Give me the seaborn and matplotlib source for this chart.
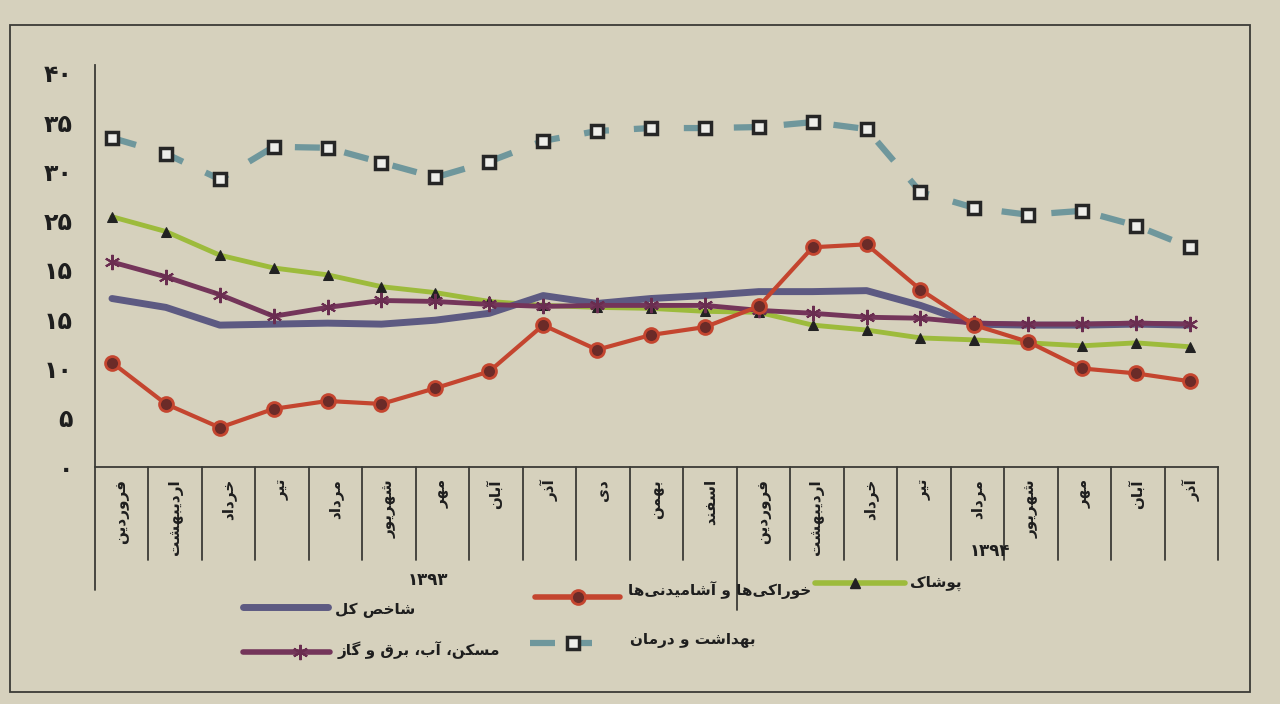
import numpy as np
import pandas as pd
import seaborn as sns
import matplotlib.pyplot as plt
from matplotlib.lines import Line2D
from matplotlib.patches import Rectangle

# ماه‌ها (۱۳۹۳: فروردین تا اسفند، ۱۳۹۴: فروردین تا آذر)
months_1393 = ["فروردین", "اردیبهشت", "خرداد", "تیر", "مرداد", "شهریور",
               "مهر", "آبان", "آذر", "دی", "بهمن", "اسفند"]
months_1394 = ["فروردین", "اردیبهشت", "خرداد", "تیر", "مرداد", "شهریور",
               "مهر", "آبان", "آذر"]
months = months_1393 + months_1394

years = ["۱۳۹۳", "۱۳۹۴"]

y_ticks = [0, 5, 10, 15, 20, 25, 30, 35, 40]
y_tick_labels = ["۰", "۵", "۱۰", "۱۵", "۱۵", "۲۵", "۳۰", "۳۵", "۴۰"]

# series values
health = [33.4, 31.8, 29.2, 32.5, 32.4, 30.9, 29.4, 31.0, 33.1, 34.1, 34.4,
          34.4, 34.5, 35.0, 34.3, 27.9, 26.3, 25.6, 26.0, 24.5, 22.3]
apparel = [25.4, 23.9, 21.5, 20.2, 19.5, 18.3, 17.7, 16.8, 16.4, 16.2, 16.1,
           15.8, 15.7, 14.4, 13.9, 13.1, 12.9, 12.6, 12.3, 12.6, 12.2]
housing = [20.8, 19.3, 17.5, 15.3, 16.2, 16.9, 16.8, 16.5, 16.3, 16.4, 16.4,
           16.4, 15.9, 15.6, 15.2, 15.1, 14.6, 14.5, 14.5, 14.6, 14.5]
overall = [17.1, 16.2, 14.4, 14.5, 14.6, 14.5, 14.9, 15.6, 17.4, 16.6, 17.1,
           17.4, 17.8, 17.8, 17.9, 16.4, 14.5, 14.4, 14.4, 14.5, 14.4]
food = [10.6, 6.4, 4.0, 5.9, 6.7, 6.4, 8.0, 9.7, 14.4, 11.9, 13.4,
        14.2, 16.3, 22.3, 22.6, 18.0, 14.4, 12.7, 10.0, 9.5, 8.7]

names = {
    "overall": "شاخص کل",
    "food": "خوراکی‌ها و آشامیدنی‌ها",
    "apparel": "پوشاک",
    "housing": "مسکن، آب، برق و گاز",
    "health": "بهداشت و درمان",
}

# --- tiny Persian shaper: matplotlib does not join Arabic letters itself ---
# (isolated, final, initial, medial)
FORMS = {
    "ا": ("\uFE8D", "\uFE8E", None, None), "آ": ("\uFE81", "\uFE82", None, None),
    "ب": ("\uFE8F", "\uFE90", "\uFE91", "\uFE92"), "پ": ("\uFB56", "\uFB57", "\uFB58", "\uFB59"),
    "ت": ("\uFE95", "\uFE96", "\uFE97", "\uFE98"), "خ": ("\uFEA5", "\uFEA6", "\uFEA7", "\uFEA8"),
    "د": ("\uFEA9", "\uFEAA", None, None), "ذ": ("\uFEAB", "\uFEAC", None, None),
    "ر": ("\uFEAD", "\uFEAE", None, None), "ز": ("\uFEAF", "\uFEB0", None, None),
    "س": ("\uFEB1", "\uFEB2", "\uFEB3", "\uFEB4"), "ش": ("\uFEB5", "\uFEB6", "\uFEB7", "\uFEB8"),
    "ص": ("\uFEB9", "\uFEBA", "\uFEBB", "\uFEBC"), "ف": ("\uFED1", "\uFED2", "\uFED3", "\uFED4"),
    "ق": ("\uFED5", "\uFED6", "\uFED7", "\uFED8"), "ک": ("\uFB8E", "\uFB8F", "\uFB90", "\uFB91"),
    "گ": ("\uFB92", "\uFB93", "\uFB94", "\uFB95"), "ل": ("\uFEDD", "\uFEDE", "\uFEDF", "\uFEE0"),
    "م": ("\uFEE1", "\uFEE2", "\uFEE3", "\uFEE4"), "ن": ("\uFEE5", "\uFEE6", "\uFEE7", "\uFEE8"),
    "ه": ("\uFEE9", "\uFEEA", "\uFEEB", "\uFEEC"), "و": ("\uFEED", "\uFEEE", None, None),
    "ی": ("\uFBFC", "\uFBFD", "\uFBFE", "\uFBFF"),
}


def fa(text):
    out = []
    for i, ch in enumerate(text):
        if ch == "\u200c":
            continue
        if ch not in FORMS:
            out.append(ch)
            continue
        prev = text[i - 1] if i > 0 else ""
        nxt = text[i + 1] if i + 1 < len(text) else ""
        join_prev = prev in FORMS and FORMS[prev][2] is not None
        join_next = nxt in FORMS and FORMS[ch][2] is not None
        iso, fin, ini, med = FORMS[ch]
        if join_prev and join_next:
            out.append(med)
        elif join_prev:
            out.append(fin)
        elif join_next:
            out.append(ini)
        else:
            out.append(iso)
    return "".join(out)[::-1]


sns.set_theme(style="white")
plt.rcParams["font.family"] = ["DejaVu Sans"]

bg = "#d6d1bd"
ink = "#3b3b36"
txt = "#1e1e1e"
W, H = 1280, 704

fig = plt.figure(figsize=(12.8, 7.04), dpi=100, facecolor=bg)
ax = fig.add_axes([95 / W, 1 - 467 / H, (1218 - 95) / W, (467 - 65) / H])
ax.set_facecolor(bg)

x = np.arange(len(months))

sns.lineplot(x=x, y=apparel, ax=ax, color="#9dbb3c", lw=3.5, marker="^",
             markersize=7, markerfacecolor="#222222", markeredgecolor="#222222", zorder=3)
sns.lineplot(x=x, y=overall, ax=ax, color="#5d5a82", lw=5, zorder=4)
sns.lineplot(x=x, y=housing, ax=ax, color="#74355a", lw=3.5, marker=(6, 2, 0),
             markersize=11, markeredgewidth=1.5, markeredgecolor="#6a2d50", zorder=5)
sns.lineplot(x=x, y=food, ax=ax, color="#c4452f", lw=3, marker="o", markersize=10,
             markerfacecolor="#6b2b28", markeredgecolor="#c4452f", markeredgewidth=2, zorder=6)
sns.lineplot(x=x, y=health, ax=ax, color="#6f979c", lw=4.5, linestyle=(0, (4, 4)),
             marker="s", markersize=9, markerfacecolor="#eeeeea", markeredgecolor="#262626",
             markeredgewidth=2.5, zorder=7)

ax.set_xlim(-0.315, 20.52)
ax.set_ylim(0, 40.8)
ax.set_yticks(y_ticks)
ax.set_yticklabels(y_tick_labels, fontsize=17, color=txt, fontweight="bold")
ax.set_xticks([])
ax.tick_params(axis="y", length=0, pad=16)
ax.set_xlabel("")
ax.set_ylabel("")
for side in ["top", "right"]:
    ax.spines[side].set_visible(False)
for side in ["left", "bottom"]:
    ax.spines[side].set_color(ink)
    ax.spines[side].set_linewidth(1.3)

# month table under the axis
n = len(months)
ax_h = 467 - 65
for k in range(1, n + 1):
    bottom = -(560 - 467) / ax_h
    if k == 12:
        bottom = -(610 - 467) / ax_h
    ax.plot([k / n, k / n], [0, bottom], transform=ax.transAxes, color=ink,
            lw=1.3, clip_on=False)
ax.plot([0, 0], [0, -(590 - 467) / ax_h], transform=ax.transAxes, color=ink,
        lw=1.3, clip_on=False)
for k, m in enumerate(months):
    ax.text((k + 0.5) / n, -12 / ax_h, fa(m), transform=ax.transAxes, rotation=90,
            ha="center", va="top", fontsize=11, color=txt, fontweight="bold")

fig.text(428 / W, 1 - 580 / H, years[0], ha="center", va="center", fontsize=12,
         color=txt, fontweight="bold")
fig.text(990 / W, 1 - 551 / H, years[1], ha="center", va="center", fontsize=12,
         color=txt, fontweight="bold")


# legend drawn by hand (RTL layout of the original)
def legend_item(x0, x1, y, xm, label, tx, ty, **style):
    mk = {k: style.pop(k) for k in list(style) if k.startswith("marker")}
    fig.add_artist(Line2D([x0 / W, x1 / W], [1 - y / H, 1 - y / H], transform=fig.transFigure, **style))
    if mk:
        fig.add_artist(Line2D([xm / W], [1 - y / H], transform=fig.transFigure, linestyle="none", **mk))
    fig.text(tx / W, 1 - ty / H, fa(label), ha="left", va="center", fontsize=11,
             color=txt, fontweight="bold")


legend_item(815, 905, 583, 855, names["apparel"], 910, 583, color="#9dbb3c", lw=4,
            marker="^", markersize=7, markerfacecolor="#222222", markeredgecolor="#222222")
legend_item(535, 620, 597, 578, names["food"], 628, 590, color="#c4452f", lw=4,
            marker="o", markersize=10, markerfacecolor="#6b2b28", markeredgecolor="#c4452f",
            markeredgewidth=2)
legend_item(243, 328, 607, 0, names["overall"], 335, 610, color="#5d5a82", lw=5)
legend_item(243, 330, 652, 300, names["housing"], 338, 650, color="#74355a", lw=4,
            marker=(6, 2, 0), markersize=11, markeredgewidth=1.5, markeredgecolor="#6a2d50")
legend_item(530, 592, 643, 573, names["health"], 630, 640, color="#6f979c", lw=4.5,
            linestyle=(0, (4, 3)), marker="s", markersize=9, markerfacecolor="#eeeeea",
            markeredgecolor="#262626", markeredgewidth=2.5)

# outer frame of the printed figure
fig.add_artist(Rectangle((10 / W, 1 - 692 / H), 1240 / W, (692 - 25) / H,
                         transform=fig.transFigure, fill=False, edgecolor=ink, lw=1.3))

fig.savefig("out.png", dpi=100, facecolor=bg)
plt.close(fig)
